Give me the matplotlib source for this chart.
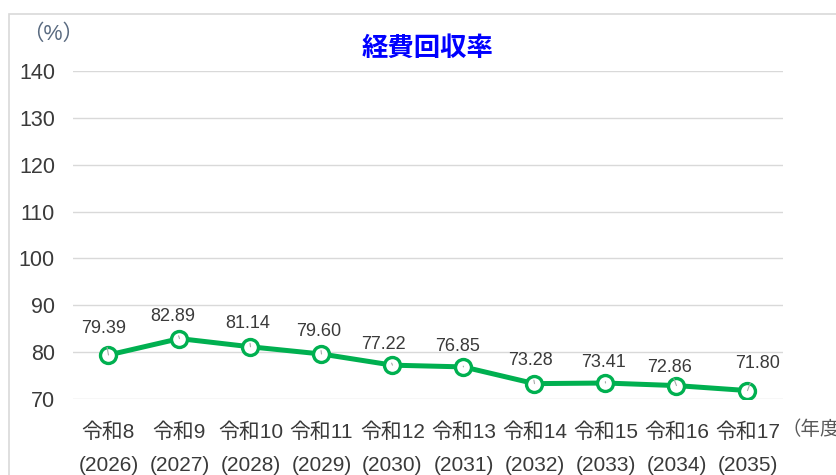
import matplotlib
matplotlib.use('Agg')
import matplotlib.pyplot as plt
from matplotlib.patches import Rectangle

plt.rcParams['font.family'] = ['Liberation Sans', 'Noto Sans CJK JP', 'DejaVu Sans']

# data
wareki = ['令和8', '令和9', '令和10', '令和11', '令和12',
          '令和13', '令和14', '令和15', '令和16', '令和17']
seireki = ['2026', '2027', '2028', '2029', '2030',
           '2031', '2032', '2033', '2034', '2035']
rate = [79.39, 82.89, 81.14, 79.60, 77.22, 76.85, 73.28, 73.41, 72.86, 71.80]

# label offsets in pixels (moved labels in the source chart)
label_off = [(-5, 27), (-7, 22), (-3, 23), (-3, 23), (-9, 21),
             (-6, 20), (-4, 23), (-2, 21), (-7, 18), (10, 27)]

green = '#00B050'
txt = '#3a3a3a'

fig = plt.figure(figsize=(8.37, 4.75), dpi=100)
ax = fig.add_axes([73/837, 1-399/475, 710/837, 328/475])

# outer chart border
fig.patches.append(Rectangle((9/837, -0.1), 1.2, 1.1 - 14/475, transform=fig.transFigure,
                             fill=False, edgecolor='#d9d9d9', lw=1.2))

x = list(range(len(rate)))
ax.plot(x, rate, color=green, lw=3.6, marker='o', ms=11.5, mew=2.4,
        mfc='white', mec=green, zorder=3)

for i, v in enumerate(rate):
    dx, dy = label_off[i]
    ax.annotate('%.2f' % v, xy=(i, v), xytext=(dx, dy), textcoords='offset pixels',
                ha='center', va='center', fontsize=13, color=txt,
                arrowprops=dict(arrowstyle='-', color='#a8a8a8', lw=0.8,
                                shrinkA=6, shrinkB=0),
                zorder=4)

ax.set_xlim(-0.5, len(rate) - 0.5)
ax.set_ylim(70, 140)
ax.set_yticks(range(70, 141, 10))
ax.set_xticks(x)
ax.set_xticklabels([w + '\n(' + s + ')' for w, s in zip(wareki, seireki)],
                   linespacing=1.95)
ax.tick_params(axis='y', length=0, pad=13, labelsize=15.5, labelcolor=txt)
ax.tick_params(axis='x', length=0, pad=17, labelsize=15, labelcolor=txt)
ax.grid(axis='y', color='#d9d9d9', lw=1)
ax.set_axisbelow(True)
for s in ax.spines.values():
    s.set_visible(False)

fig.text(428/837, 1-49/475, '経費回収率', ha='center', va='center',
         fontsize=19, fontweight='bold', color='#0000FF')
fig.text(53/837, 1-34/475, '（%）', ha='center', va='center',
         fontsize=15.5, color='#596a80')
fig.text(782/837, 1-430/475, '（年度）', ha='left', va='center',
         fontsize=14, color='#595959')

fig.savefig('out.png', dpi=100, facecolor='white')
